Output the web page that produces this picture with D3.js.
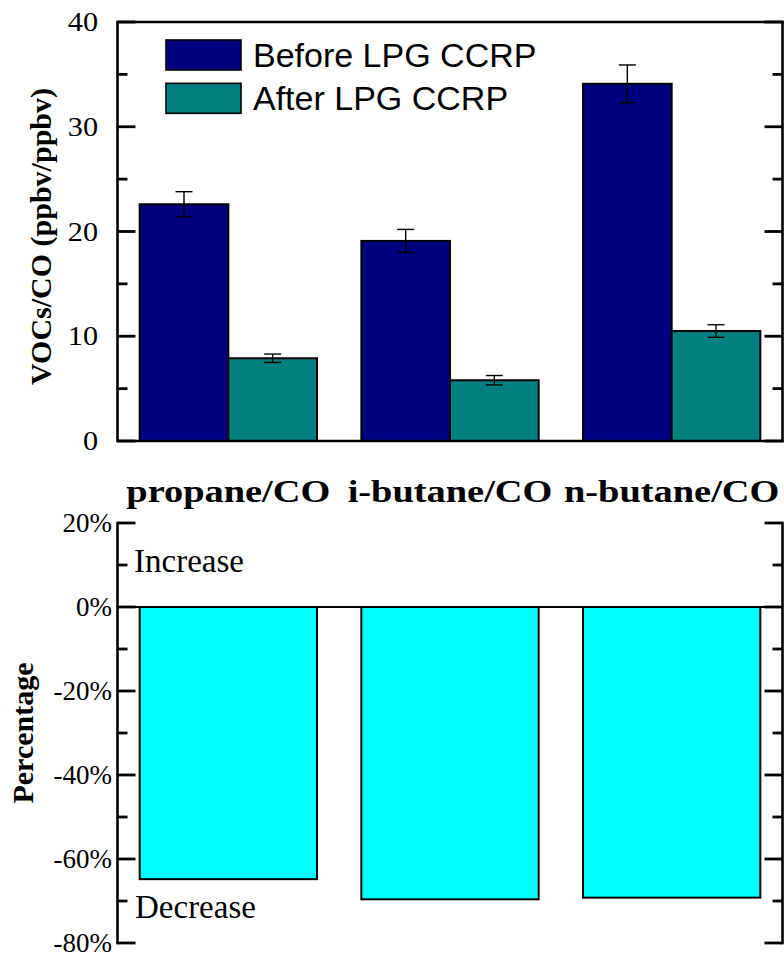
<!DOCTYPE html>
<html>
<head>
<meta charset="utf-8">
<script src="https://cdn.jsdelivr.net/npm/d3@7"></script>
<style>
  html, body { margin: 0; padding: 0; background: #fff; }
  svg { display: block; }
</style>
</head>
<body>
<svg id="chart" width="784" height="960"></svg>
<script>
// ---- Data ----
const categories = ["propane/CO", "i-butane/CO", "n-butane/CO"];
const seriesNames = ["Before LPG CCRP", "After LPG CCRP"];
const beforeValues = [22.6, 19.1, 34.1];
const beforeErrors = [1.2, 1.1, 1.8];
const afterValues = [7.9, 5.8, 10.5];
const afterErrors = [0.4, 0.45, 0.6];
const percentChange = [-64.8, -69.6, -69.2];
const topTicks = [0, 10, 20, 30, 40];
const bottomTicks = [20, 0, -20, -40, -60, -80];

(function () {
// ---- Layout / style ----
const svg = d3.select("#chart");
const left = 117.5, right = 782.5;
const serif = "'Liberation Serif', 'Times New Roman', serif";
const sans = "'Liberation Sans', Arial, sans-serif";
const colors = ["#000080", "#008080"];

const x = d3.scaleBand().domain(categories).range([left, right])
  .paddingInner(0.2).paddingOuter(0.1);
const xSub = d3.scaleBand().domain(seriesNames).range([0, x.bandwidth()]);

// ================= TOP PANEL =================
const yTop = d3.scaleLinear().domain([0, 40]).range([441, 22]);
const topG = svg.append("g");

const seriesData = [
  { name: seriesNames[0], values: beforeValues, errs: beforeErrors, color: colors[0] },
  { name: seriesNames[1], values: afterValues, errs: afterErrors, color: colors[1] }
];
seriesData.forEach(s => {
  const g = topG.append("g");
  g.selectAll("rect").data(categories).join("rect")
    .attr("x", (c) => x(c) + xSub(s.name))
    .attr("y", (c, i) => yTop(s.values[i]))
    .attr("width", xSub.bandwidth())
    .attr("height", (c, i) => yTop(0) - yTop(s.values[i]))
    .attr("fill", s.color)
    .attr("stroke", "#000")
    .attr("stroke-width", 2);
  categories.forEach((c, i) => {
    const cx = x(c) + xSub(s.name) + xSub.bandwidth() / 2;
    const y1 = yTop(s.values[i] + s.errs[i]);
    const y2 = yTop(s.values[i] - s.errs[i]);
    g.append("line").attr("x1", cx).attr("x2", cx).attr("y1", y1).attr("y2", y2)
      .attr("stroke", "#000").attr("stroke-width", 1.4);
    [y1, y2].forEach(yy => g.append("line")
      .attr("x1", cx - 8.5).attr("x2", cx + 8.5).attr("y1", yy).attr("y2", yy)
      .attr("stroke", "#000").attr("stroke-width", 1.4));
  });
});

const frameW = 2.6;
topG.append("line").attr("x1", left).attr("x2", right + 1.3).attr("y1", yTop(40)).attr("y2", yTop(40))
  .attr("stroke", "#000").attr("stroke-width", frameW);
topG.append("line").attr("x1", left).attr("x2", right + 1.3).attr("y1", yTop(0)).attr("y2", yTop(0))
  .attr("stroke", "#000").attr("stroke-width", frameW);

function drawYAxis(g, scale, xPos, dir, majors, minors) {
  const [r0, r1] = scale.range();
  g.append("line").attr("x1", xPos).attr("x2", xPos)
    .attr("y1", Math.max(r0, r1) + 1.3).attr("y2", Math.min(r0, r1) - 1.3)
    .attr("stroke", "#000").attr("stroke-width", frameW);
  majors.forEach(v => g.append("line")
    .attr("x1", xPos).attr("x2", xPos + dir * 18)
    .attr("y1", scale(v)).attr("y2", scale(v))
    .attr("stroke", "#000").attr("stroke-width", 2.8));
  minors.forEach(v => g.append("line")
    .attr("x1", xPos).attr("x2", xPos + dir * 10)
    .attr("y1", scale(v)).attr("y2", scale(v))
    .attr("stroke", "#000").attr("stroke-width", 2.8));
}
const topMinors = [5, 15, 25, 35];
drawYAxis(topG, yTop, left, 1, topTicks, topMinors);
drawYAxis(topG, yTop, right, -1, topTicks, topMinors);

topG.selectAll("text.tick").data(topTicks).join("text")
  .attr("class", "tick")
  .attr("transform", d => `translate(98,${yTop(d)}) scale(1.08,1)`)
  .attr("dy", "0.33em")
  .attr("text-anchor", "end")
  .attr("font-family", serif).attr("font-size", 28)
  .text(d => d);

topG.append("text")
  .attr("transform", `translate(51,${(yTop(0) + yTop(40)) / 2 + 5}) rotate(-90)`)
  .attr("text-anchor", "middle")
  .attr("font-family", serif).attr("font-size", 30).attr("font-weight", "bold")
  .text("VOCs/CO (ppbv/ppbv)");

const legend = topG.append("g");
seriesData.forEach((s, i) => {
  const ly = 40 + i * 43.3;
  legend.append("rect").attr("x", 166).attr("y", ly).attr("width", 75).attr("height", 30)
    .attr("fill", s.color).attr("stroke", "#000").attr("stroke-width", 1.6);
  legend.append("text").attr("x", 253).attr("y", ly + 26.5)
    .attr("font-family", sans).attr("font-size", 34)
    .text(s.name);
});

svg.selectAll("text.cat").data(categories).join("text")
  .attr("class", "cat")
  .attr("transform", d => `translate(${x(d) + x.bandwidth() / 2},502) scale(1.2,1)`)
  .attr("text-anchor", "middle")
  .attr("font-family", serif).attr("font-size", 32).attr("font-weight", "bold")
  .text(d => d);

// ================= BOTTOM PANEL =================
const yBot = d3.scaleLinear().domain([-80, 20]).range([943, 523]);
const bot = svg.append("g");

bot.selectAll("rect").data(categories).join("rect")
  .attr("x", d => x(d))
  .attr("y", yBot(0))
  .attr("width", x.bandwidth())
  .attr("height", (d, i) => yBot(percentChange[i]) - yBot(0))
  .attr("fill", "#00FFFF")
  .attr("stroke", "#000")
  .attr("stroke-width", 2);

bot.append("line").attr("x1", left).attr("x2", right).attr("y1", yBot(0)).attr("y2", yBot(0))
  .attr("stroke", "#000").attr("stroke-width", 2.2);

const botMinors = [10, -10, -30, -50, -70];
drawYAxis(bot, yBot, left, 1, bottomTicks, botMinors);
drawYAxis(bot, yBot, right, -1, bottomTicks, botMinors);

bot.selectAll("text.tick").data(bottomTicks).join("text")
  .attr("class", "tick")
  .attr("x", 112).attr("y", d => yBot(d))
  .attr("dy", "0.33em")
  .attr("text-anchor", "end")
  .attr("font-family", serif).attr("font-size", 27)
  .text(d => d + "%");

bot.append("text")
  .attr("transform", `translate(33,${(yBot(20) + yBot(-80)) / 2}) rotate(-90)`)
  .attr("text-anchor", "middle")
  .attr("font-family", serif).attr("font-size", 30).attr("font-weight", "bold")
  .text("Percentage");

bot.append("text").attr("x", 134).attr("y", 571.5)
  .attr("font-family", serif).attr("font-size", 33).text("Increase");
bot.append("text").attr("x", 135).attr("y", 918)
  .attr("font-family", serif).attr("font-size", 33).text("Decrease");
})();
</script>
</body>
</html>
